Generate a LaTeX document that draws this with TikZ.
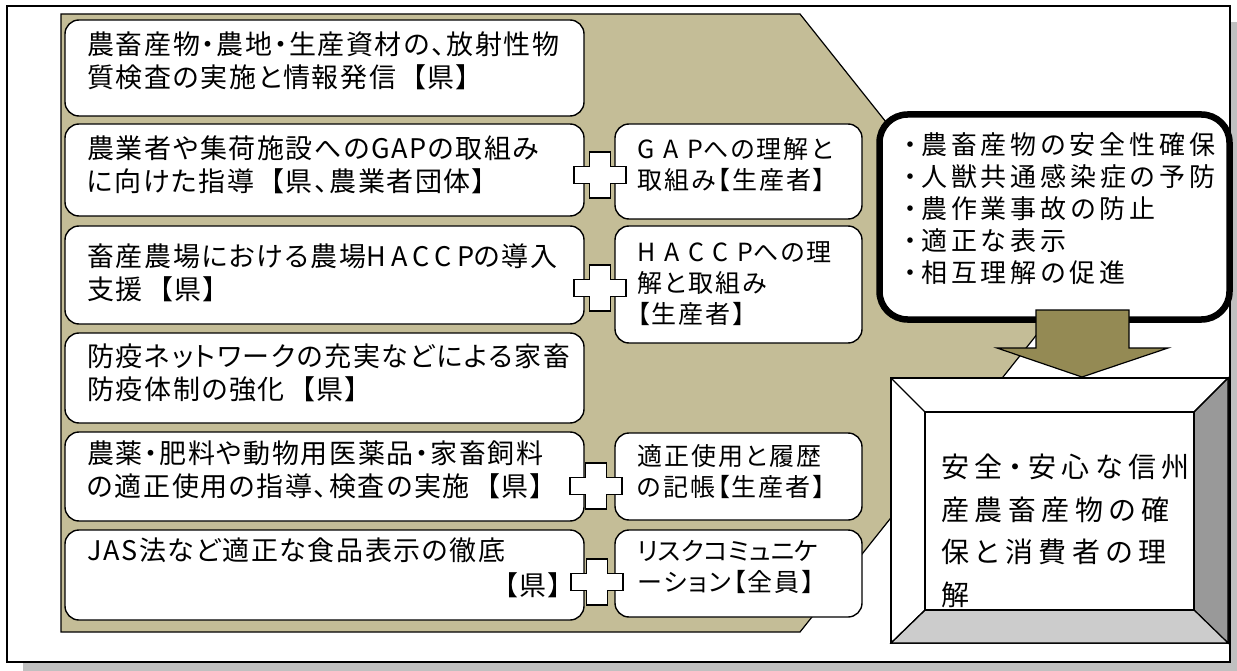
\documentclass[tikz,border=0pt]{standalone}
\usepackage{fontspec}
\usepackage{graphicx}
\newfontfamily\jpL[RawFeature=+palt,LetterSpace=6]{Noto Sans CJK JP}
\newfontfamily\jpLL[RawFeature=+palt,LetterSpace=20]{Noto Sans CJK JP}
\newfontfamily\jpR[RawFeature=+palt,LetterSpace=8]{Noto Sans CJK JP}
\newfontfamily\jpRL[RawFeature=+palt,LetterSpace=36]{Noto Sans CJK JP}
\newfontfamily\jpRK[RawFeature=+palt]{Noto Sans CJK JP}
\newfontfamily\jpT[RawFeature=+palt,LetterSpace=15]{Noto Sans CJK JP}
\newfontfamily\jpB[RawFeature=+palt,LetterSpace=20]{Noto Sans CJK JP}
\definecolor{tanbg}{HTML}{C4BD97}
\definecolor{olivearrow}{HTML}{948A54}
\definecolor{shadowgray}{HTML}{C0C0C0}
\definecolor{bevelright}{HTML}{999999}
\definecolor{bevelbottom}{HTML}{CCCCCC}
\newcommand\gapk{\hspace*{0.6em}}
\tikzset{
  crossmark/.pic={
    \draw[line width=1.2pt,fill=white,line join=miter]
      (-10.5,-23) -- (10.5,-23) -- (10.5,-8.5) -- (26,-8.5) -- (26,8.5) -- (10.5,8.5)
      -- (10.5,23) -- (-10.5,23) -- (-10.5,8.5) -- (-26,8.5) -- (-26,-8.5) -- (-10.5,-8.5) -- cycle;
  }
}
\begin{document}
\begin{tikzpicture}[x=1pt,y=-1pt,
  box/.style={draw=black,line width=1.4pt,fill=white,rounded corners=14pt},
  ltext/.style={anchor=north west,inner sep=0pt,align=left,font={\jpL\fontsize{27}{33}\selectfont}},
  rtext/.style={anchor=north west,inner sep=0pt,align=left,font={\jpR\fontsize{25}{31}\selectfont}},
  ttext/.style={anchor=north west,inner sep=0pt,align=left,font={\jpT\fontsize{26}{32}\selectfont}},
  btext/.style={anchor=north west,inner sep=0pt,align=left,font={\jpB\fontsize{28}{42.5}\selectfont}}
]
\useasboundingbox (0,0) rectangle (1237,671);
% shadow and frame
\fill[shadowgray] (23,22) rectangle (1237,671);
\draw[line width=1.5pt,fill=white] (7,6) rectangle (1230,662);
% tan arrow-shaped background
\draw[line width=1.2pt,fill=tanbg,line join=miter] (61,14) -- (800,14) -- (1046,323) -- (800,632) -- (61,632) -- cycle;
% left boxes
\draw[box] (65,20) rectangle (584,116);
\draw[box] (65,124) rectangle (584,216);
\draw[box] (65,226) rectangle (584,324);
\draw[box] (65,333) rectangle (584,423);
\draw[box] (65,432) rectangle (584,521);
\draw[box] (65,530) rectangle (584,620);
% right boxes
\draw[box] (615,124) rectangle (862,219);
\draw[box] (615,226) rectangle (862,343);
\draw[box] (615,433) rectangle (862,520);
\draw[box] (615,530) rectangle (862,617);
% texts of left boxes
\node[ltext] (l1) at (87,31) {\strut 農畜産物・農地・生産資材の、放射性物\\質検査の実施と情報発信\gapk【県】};
\node[ltext] (l2) at (87,135) {\strut 農業者や集荷施設へのGAPの取組み\\に向けた指導\gapk【県、農業者団体】};
\node[ltext] (l3) at (87,243) {\strut 畜産農場における農場{\jpLL HACCP}の導入\\支援\gapk【県】};
\node[ltext] (l4) at (87,343) {\strut 防疫ネットワークの充実などによる家畜\\防疫体制の強化\gapk【県】};
\node[ltext] (l5) at (87,440) {\strut 農薬・肥料や動物用医薬品・家畜飼料\\の適正使用の指導、検査の実施\gapk【県】};
\node[ltext] (l6) at (87,537) {\strut JAS法など適正な食品表示の徹底};
\node[ltext,anchor=north east] (l6b) at (562,572) {\strut 【県】};
% texts of right boxes
\node[rtext] (r1) at (637,137) {\strut {\jpRL GAP}への理解と\\取組み【生産者】};
\node[rtext] (r2) at (637,240) {\strut {\jpRL HACCP}への理\\解と取組み\\【生産者】};
\node[rtext] (r3) at (637,444) {\strut 適正使用と履歴\\の記帳【生産者】};
\node[rtext] (r4) at (637,539) {\strut \resizebox{181pt}{\height}{\jpRK リスクコミュニケ}\\ーション【全員】};
% plus signs
\pic (p2) at (600,175) {crossmark};
\pic (p3) at (600,288) {crossmark};
\pic (p5) at (596,486) {crossmark};
\pic (p6) at (597,582) {crossmark};
% thick goal box
\draw[line width=6.5pt,fill=white,rounded corners=28pt] (879.5,114.5) rectangle (1229.5,319.5);
\node[ttext] (goals) at (904,131.5) {\strut ・農畜産物の安全性確保\\・人獣共通感染症の予防\\・農作業事故の防止\\・適正な表示\\・相互理解の促進};
% down arrow
\draw[line width=1.2pt,fill=olivearrow,line join=miter] (1036,310) -- (1129,310) -- (1129,348) -- (1168,348) -- (1082,377) -- (997,348) -- (1036,348) -- cycle;
% bevel box
\draw[line width=1.4pt,fill=white] (891,378) rectangle (1228,643);
\draw[line width=1.2pt,fill=bevelright] (1228,378) -- (1228,643) -- (1194,610) -- (1194,412) -- cycle;
\draw[line width=1.2pt,fill=bevelbottom] (891,643) -- (1228,643) -- (1194,610) -- (925,610) -- cycle;
\draw[line width=1.2pt] (891,378) -- (925,412) (1228,378) -- (1194,412) (891,643) -- (925,610);
\draw[line width=1.4pt] (925,412) rectangle (1194,610);
\node[btext] (final) at (941,448) {\strut 安全・安心な信州\\産農畜産物の確\\保と消費者の理\\解};
\end{tikzpicture}
\end{document}
